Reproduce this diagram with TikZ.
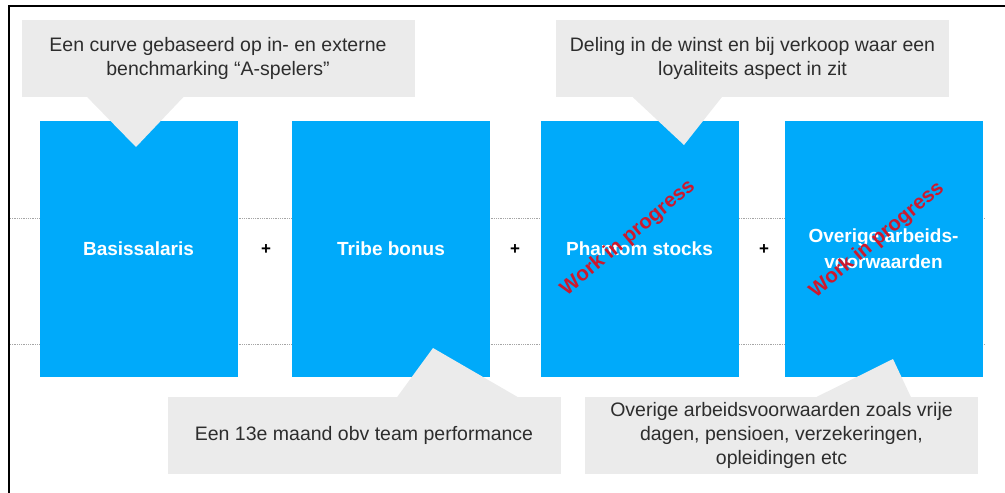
\documentclass[tikz,border=0pt]{standalone}
\usepackage{fontspec}
\setmainfont{Liberation Sans}
\usetikzlibrary{positioning}
\definecolor{compc}{RGB}{0,170,250}
\definecolor{notec}{RGB}{235,235,235}
\definecolor{notetextc}{RGB}{45,45,45}
\definecolor{wipc}{RGB}{205,25,45}
\definecolor{gridc}{RGB}{165,165,165}

\begin{document}
\begin{tikzpicture}[x=1pt,y=-1pt,
  comp/.style={shape=rectangle,fill=compc,inner sep=0pt,minimum width=198pt,minimum height=256pt,
    text=white,align=center,font=\fontsize{19}{26}\selectfont\bfseries},
  note/.style={shape=rectangle,fill=notec,inner sep=0pt,minimum width=393pt,minimum height=77pt,
    text=notetextc,align=center,font=\fontsize{19.5}{24}\selectfont},
  wip/.style={text=wipc,rotate=40,inner sep=0pt,font=\fontsize{20.5}{24}\selectfont\bfseries},
  plus/.style={inner sep=0pt,font=\fontsize{17}{17}\selectfont\bfseries}]
\useasboundingbox (0,0) rectangle (1005,493);

% frame
\draw[line width=2.5pt] (9,493) -- (9,6) -- (1005,6);

% dotted guide lines
\draw[gridc,densely dotted,line width=0.8pt] (10,218) -- (984,218);
\draw[gridc,densely dotted,line width=0.8pt] (10,344) -- (984,344);

% components
\node[comp] (comp0) at (138.5,248.5) {Basissalaris};
\node[comp] (comp1) at (391,248.5) {Tribe bonus};
\node[comp] (comp2) at (639.5,248.5) {Phantom stocks};
\node[comp] (comp3) at (883.5,248.5) {Overige arbeids-\\voorwaarden};

\node[plus] (plus0) at (266,250) {+};
\node[plus] (plus1) at (515,250) {+};
\node[plus] (plus2) at (764,250) {+};

% callouts
\node[note] (note0) at (218,58.5) {Een curve gebaseerd op in- en externe\\benchmarking \textquotedblleft A-spelers"};
\node[note] (note1) at (752.5,58.5) {Deling in de winst en bij verkoop waar een\\loyaliteits aspect in zit};
\node[note] (note2) at (364,435.5) {Een 13e maand obv team performance};
\node[note] (note3) at (781.5,435.5) {Overige arbeidsvoorwaarden zoals vrije\\dagen, pensioen, verzekeringen,\\opleidingen etc};

\coordinate (tip0) at (136,147);
\coordinate (tip1) at (684,145);
\coordinate (tip2) at (433,348);
\coordinate (tip3) at (893,359);
\fill[notec] ([xshift=66pt]note0.south west) -- (tip0) -- ([xshift=162pt]note0.south west) -- cycle;
\fill[notec] ([xshift=77pt]note1.south west) -- (tip1) -- ([xshift=166pt]note1.south west) -- cycle;
\fill[notec] ([xshift=230pt]note2.north west) -- (tip2) -- ([xshift=350pt]note2.north west) -- cycle;
\fill[notec] ([xshift=232pt]note3.north west) -- (tip3) -- ([xshift=326pt]note3.north west) -- cycle;

% work in progress stamps
\node[wip] (wip0) at (628,238) {Work in progress};
\node[wip] (wip1) at (877,240) {Work in progress};

\end{tikzpicture}
\end{document}
